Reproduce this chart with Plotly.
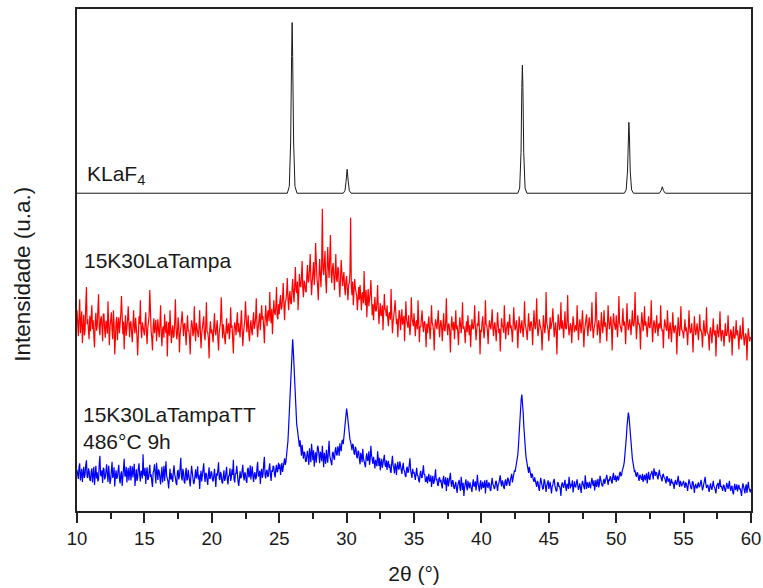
import numpy as np
import plotly.graph_objects as go

# --- scan grid (2θ, degrees) ---
SCAN_START = 10.0
SCAN_STEP = 0.05

# --- 15K30LaTampaTT 486°C 9h (counts, a.u.), one row per degree ---
tt_counts = [
    82, 70, 64, 88, 95, 61, 70, 84, 58, 76, 88, 66, 73, 92, 101, 68, 66, 85, 79, 62,
    60, 78, 85, 57, 71, 88, 52, 74, 90, 65, 77, 59, 63, 93, 110, 72, 69, 81, 56, 86,
    84, 63, 67, 80, 93, 71, 58, 90, 75, 54, 62, 79, 98, 66, 72, 87, 49, 70, 81, 64,
    68, 81, 92, 64, 55, 73, 79, 50, 63, 85, 104, 69, 70, 88, 57, 76, 86, 61, 74, 90,
    61, 74, 89, 67, 76, 94, 50, 71, 83, 60, 66, 85, 95, 72, 59, 80, 78, 65, 113, 75,
    70, 86, 54, 75, 87, 62, 64, 79, 92, 68, 73, 58, 48, 77, 81, 93, 67, 55, 96, 71,
    62, 83, 79, 66, 53, 74, 88, 57, 71, 90, 60, 76, 99, 70, 66, 59, 45, 72, 84, 63,
    75, 64, 58, 80, 91, 72, 67, 55, 52, 78, 82, 63, 70, 87, 106, 68, 61, 84, 77, 58,
    55, 76, 86, 61, 64, 82, 73, 66, 49, 71, 90, 78, 68, 54, 57, 80, 83, 65, 72, 89,
    63, 72, 44, 67, 80, 59, 69, 84, 95, 70, 58, 76, 74, 61, 52, 73, 87, 64, 66, 79,
    76, 62, 59, 71, 84, 66, 48, 75, 70, 82, 97, 65, 62, 78, 73, 57, 55, 69, 81, 60,
    64, 77, 88, 62, 53, 70, 71, 85, 60, 67, 83, 72, 102, 63, 57, 74, 75, 90, 66, 58,
    50, 73, 79, 65, 68, 81, 92, 70, 61, 77, 74, 60, 56, 83, 86, 67, 70, 91, 63, 76,
    89, 70, 58, 74, 77, 63, 66, 85, 98, 69, 71, 80, 54, 76, 84, 66, 73, 94, 108, 71,
    65, 79, 82, 68, 70, 86, 95, 72, 60, 81, 78, 90, 88, 73, 67, 84, 92, 77, 80, 96,
    84, 93, 72, 85, 96, 78, 88, 101, 105, 92, 98, 112, 125, 140, 168, 196, 236, 270, 305, 328,
    342, 318, 286, 250, 228, 196, 172, 163, 150, 136, 128, 141, 118, 110, 132, 121, 104, 118, 115, 99,
    98, 111, 120, 104, 92, 125, 112, 97, 134, 115, 101, 121, 88, 108, 117, 96, 108, 130, 126, 102,
    95, 118, 113, 99, 130, 108, 87, 116, 109, 94, 122, 103, 96, 119, 140, 110, 104, 97, 91, 115,
    118, 106, 102, 121, 127, 112, 111, 129, 123, 110, 135, 124, 119, 138, 142, 133, 150, 158, 172, 190,
    204, 194, 178, 160, 150, 142, 138, 126, 121, 134, 130, 115, 112, 128, 124, 108, 105, 120, 118, 102,
    93, 116, 110, 97, 124, 105, 98, 90, 87, 108, 115, 100, 102, 119, 92, 103, 130, 111, 99, 94,
    108, 93, 85, 102, 97, 89, 119, 98, 90, 106, 81, 96, 104, 86, 95, 110, 112, 92, 88, 101,
    82, 95, 100, 86, 93, 79, 76, 97, 110, 91, 87, 75, 95, 88, 72, 90, 98, 83, 84, 99,
    90, 77, 74, 87, 96, 82, 79, 70, 68, 85, 88, 76, 80, 93, 105, 81, 71, 66, 84, 75,
    78, 68, 62, 75, 86, 71, 70, 61, 57, 74, 80, 67, 66, 79, 91, 72, 73, 58, 60, 69,
    55, 66, 74, 59, 60, 71, 48, 62, 70, 54, 58, 69, 83, 61, 64, 52, 50, 65, 67, 57,
    62, 51, 45, 63, 70, 56, 53, 67, 40, 58, 66, 49, 57, 64, 76, 55, 48, 61, 60, 47,
    44, 53, 58, 45, 36, 51, 55, 62, 47, 40, 68, 52, 42, 56, 30, 46, 57, 63, 49, 41,
    60, 48, 45, 57, 52, 43, 38, 54, 63, 49, 50, 59, 41, 53, 72, 56, 47, 39, 55, 61,
    43, 55, 58, 46, 50, 61, 35, 52, 62, 48, 47, 57, 54, 42, 40, 56, 66, 53, 51, 44,
    46, 58, 60, 50, 40, 53, 55, 64, 71, 56, 49, 61, 57, 47, 44, 59, 63, 51, 52, 66,
    64, 56, 50, 62, 68, 74, 57, 66, 72, 81, 78, 88, 90, 98, 112, 131, 158, 183, 204, 222,
    232, 218, 196, 168, 142, 124, 110, 101, 94, 84, 76, 88, 82, 70, 66, 75, 71, 62, 58, 67,
    62, 53, 48, 60, 57, 46, 40, 55, 66, 58, 52, 44, 45, 63, 60, 49, 38, 51, 55, 61,
    44, 53, 58, 46, 35, 49, 52, 60, 64, 51, 47, 39, 41, 57, 56, 48, 50, 43, 30, 52,
    57, 50, 46, 55, 62, 48, 40, 54, 53, 44, 68, 56, 45, 52, 51, 61, 37, 47, 59, 49,
    48, 56, 63, 51, 42, 49, 55, 45, 36, 52, 60, 54, 50, 43, 71, 58, 44, 57, 53, 46,
    58, 49, 45, 57, 66, 55, 50, 61, 41, 52, 62, 48, 54, 64, 47, 53, 70, 59, 56, 51,
    49, 60, 64, 54, 58, 66, 72, 57, 52, 63, 60, 69, 67, 58, 55, 70, 76, 62, 63, 71,
    58, 66, 70, 61, 64, 75, 78, 69, 72, 80, 84, 90, 98, 110, 124, 146, 168, 184, 196, 188,
    170, 150, 128, 114, 104, 96, 88, 79, 80, 72, 68, 77, 75, 66, 60, 72, 70, 64, 63, 74,
    58, 67, 72, 61, 66, 75, 55, 69, 78, 64, 62, 73, 74, 80, 68, 63, 85, 71, 70, 77,
    76, 68, 63, 74, 82, 71, 70, 64, 59, 72, 73, 67, 66, 60, 55, 69, 68, 58, 61, 65,
    50, 59, 64, 55, 58, 51, 44, 57, 62, 54, 53, 61, 70, 56, 48, 60, 57, 49, 52, 58,
    60, 51, 46, 56, 55, 48, 40, 53, 63, 57, 50, 45, 44, 59, 58, 49, 36, 50, 54, 47,
    45, 53, 57, 48, 49, 56, 62, 51, 41, 47, 53, 60, 68, 54, 46, 50, 52, 43, 38, 49,
    55, 46, 42, 51, 60, 49, 47, 41, 35, 50, 52, 56, 44, 53, 63, 48, 50, 45, 40, 52,
    51, 43, 38, 47, 56, 50, 44, 52, 60, 46, 40, 49, 49, 37, 33, 48, 54, 42, 45, 53,
    39, 47, 52, 43, 45, 38, 30, 46, 55, 49, 42, 35, 48, 53, 36, 44, 58, 46, 41, 37,
    44,
]

# --- 15K30LaTampa, as-cast glass (counts, a.u.), one row per degree ---
glass_counts = [
    150, 118, 98, 136, 172, 104, 120, 148, 84, 127, 141, 100, 110, 160, 196, 122, 132, 108, 92, 139,
    108, 134, 160, 112, 130, 98, 76, 126, 145, 109, 118, 150, 182, 115, 100, 131, 138, 119, 88, 142,
    142, 112, 95, 129, 124, 103, 168, 121, 80, 117, 130, 146, 110, 92, 150, 125, 62, 108, 126, 137,
    90, 121, 136, 104, 118, 143, 178, 110, 102, 127, 72, 115, 140, 99, 112, 130, 158, 117, 96, 124,
    128, 105, 86, 119, 150, 113, 104, 135, 120, 97, 60, 111, 138, 122, 170, 109, 94, 126, 116, 101,
    100, 123, 146, 107, 82, 114, 124, 139, 190, 120, 108, 93, 70, 117, 134, 104, 115, 131, 88, 118,
    132, 110, 96, 121, 160, 103, 78, 112, 118, 95, 142, 116, 104, 128, 58, 107, 126, 99, 150, 113,
    84, 109, 120, 95, 100, 127, 172, 114, 92, 104, 136, 118, 66, 101, 112, 130, 148, 105, 98, 122,
    124, 102, 80, 117, 140, 108, 110, 92, 62, 113, 130, 121, 98, 106, 158, 111, 88, 125, 115, 97,
    96, 114, 150, 109, 74, 103, 118, 130, 138, 100, 90, 119, 166, 107, 106, 93, 54, 112, 128, 104,
    112, 99, 86, 120, 144, 108, 100, 116, 130, 94, 70, 105, 118, 127, 176, 113, 94, 122, 108, 97,
    82, 111, 134, 103, 110, 124, 92, 107, 156, 115, 120, 98, 64, 109, 126, 117, 100, 128, 146, 106,
    124, 108, 96, 127, 150, 114, 78, 104, 118, 132, 168, 112, 106, 121, 140, 101, 88, 118, 130, 109,
    100, 129, 146, 113, 120, 135, 174, 121, 96, 117, 132, 144, 110, 126, 160, 131, 138, 115, 84, 130,
    160, 134, 118, 146, 150, 128, 186, 142, 124, 153, 102, 138, 170, 147, 140, 158, 196, 137, 132, 162,
    142, 168, 180, 151, 156, 175, 204, 160, 130, 166, 170, 184, 214, 172, 150, 178, 188, 165, 162, 190,
    212, 185, 166, 198, 236, 190, 184, 207, 150, 183, 222, 200, 196, 216, 248, 194, 176, 209, 204, 188,
    186, 219, 240, 205, 210, 231, 262, 213, 180, 207, 228, 246, 200, 222, 284, 225, 214, 198, 170, 218,
    252, 221, 196, 240, 352, 232, 220, 245, 268, 210, 184, 229, 276, 238, 214, 256, 300, 226, 204, 234,
    244, 218, 190, 227, 262, 212, 206, 236, 232, 201, 176, 215, 250, 224, 198, 213, 226, 195, 180, 209,
    218, 192, 170, 201, 204, 226, 334, 198, 180, 207, 160, 189, 212, 194, 188, 178, 150, 184, 196, 171,
    200, 176, 150, 182, 186, 164, 228, 178, 160, 190, 136, 170, 192, 158, 168, 183, 210, 167, 140, 162,
    130, 158, 176, 149, 148, 163, 200, 155, 122, 147, 164, 139, 140, 160, 110, 145, 182, 152, 150, 138,
    160, 134, 118, 143, 146, 131, 192, 141, 104, 126, 136, 152, 170, 137, 122, 133, 96, 129, 150, 140,
    110, 132, 152, 121, 130, 139, 88, 124, 168, 131, 120, 115, 140, 127, 100, 122, 176, 135, 126, 118,
    144, 119, 98, 126, 130, 112, 170, 128, 86, 118, 116, 134, 150, 121, 106, 125, 128, 110, 76, 123,
    104, 122, 138, 113, 92, 119, 160, 125, 120, 108, 70, 116, 132, 121, 112, 129, 150, 115, 96, 124,
    130, 114, 88, 120, 144, 111, 108, 126, 174, 118, 100, 123, 122, 107, 66, 112, 138, 119, 110, 127,
    92, 117, 150, 112, 120, 105, 80, 115, 136, 121, 104, 124, 166, 113, 118, 109, 84, 116, 128, 106,
    140, 118, 100, 121, 76, 110, 132, 115, 112, 126, 160, 117, 90, 108, 124, 119, 148, 113, 62, 111,
    106, 125, 138, 111, 94, 116, 170, 122, 120, 107, 82, 114, 130, 118, 112, 128, 152, 115, 98, 120,
    126, 109, 88, 117, 146, 121, 104, 113, 68, 110, 134, 119, 116, 105, 160, 123, 92, 112, 120, 127,
    100, 121, 142, 114, 120, 107, 86, 118, 156, 124, 110, 116, 130, 112, 74, 109, 138, 122, 104, 117,
    130, 111, 96, 120, 168, 124, 118, 106, 90, 115, 144, 119, 108, 125, 128, 113, 80, 117, 150, 121,
    112, 127, 174, 118, 98, 110, 132, 121, 116, 108, 70, 114, 140, 123, 104, 117, 186, 126, 120, 109,
    88, 115, 136, 112, 120, 129, 154, 118, 96, 111, 126, 107, 62, 116, 142, 124, 110, 119, 166, 113,
    130, 117, 94, 121, 148, 114, 112, 127, 180, 120, 100, 110, 124, 118, 84, 113, 138, 125, 106, 116,
    120, 109, 160, 122, 90, 115, 132, 119, 104, 126, 150, 114, 76, 108, 118, 129, 142, 117, 98, 121,
    136, 119, 108, 125, 166, 116, 94, 111, 124, 130, 186, 121, 100, 114, 130, 118, 84, 112, 146, 123,
    104, 123, 150, 117, 126, 113, 88, 121, 160, 128, 112, 124, 138, 115, 70, 119, 144, 126, 118, 111,
    140, 121, 96, 127, 178, 125, 120, 114, 106, 130, 154, 119, 128, 116, 82, 123, 164, 126, 110, 120,
    132, 118, 100, 125, 150, 121, 118, 131, 186, 127, 92, 115, 140, 122, 124, 113, 72, 120, 146, 128,
    108, 124, 158, 119, 128, 112, 96, 121, 138, 117, 114, 126, 170, 118, 86, 115, 130, 122, 104, 116,
    140, 117, 98, 121, 124, 113, 160, 119, 108, 111, 74, 114, 132, 120, 116, 109, 150, 118, 92, 112,
    126, 109, 86, 115, 146, 113, 104, 117, 120, 106, 62, 110, 136, 114, 98, 119, 158, 111, 110, 105,
    94, 113, 132, 108, 116, 103, 80, 112, 150, 115, 104, 109, 124, 101, 66, 107, 138, 114, 100, 111,
    124, 106, 90, 113, 142, 109, 110, 102, 76, 107, 130, 112, 98, 111, 156, 105, 104, 99, 70, 108,
    116, 101, 84, 108, 134, 106, 100, 110, 58, 98, 122, 107, 96, 112, 148, 103, 88, 109, 110, 97,
    78, 104, 124, 99, 100, 108, 140, 103, 86, 97, 112, 106, 60, 101, 118, 95, 94, 105, 130, 100,
    110, 96, 72, 101, 120, 94, 92, 103, 136, 99, 80, 93, 104, 97, 50, 92, 114, 100, 88, 95,
    96,
]

# --- KLaF4 reference pattern: profile points (2θ, relative intensity %) ---
ref_two_theta = [
    10.0,
    25.60, 25.75, 25.85, 25.92, 25.96, 26.00, 26.07, 26.17, 26.32,
    29.75, 29.88, 29.96, 30.04, 30.12, 30.20, 30.33,
    42.70, 42.84, 42.94, 43.00, 43.04, 43.08, 43.14, 43.24, 43.38,
    50.60, 50.74, 50.84, 50.90, 50.94, 50.98, 51.04, 51.14, 51.28,
    53.20, 53.33, 53.42, 53.51, 53.64,
    60.0,
]
ref_rel_int = [
    0,
    0, 4, 30, 80, 100, 80, 30, 4, 0,
    0, 1.5, 7, 14, 7, 1.5, 0,
    0, 3, 24, 62, 75, 62, 24, 3, 0,
    0, 2, 13, 34, 41.5, 34, 13, 2, 0,
    0, 1.5, 3.8, 1.5, 0,
    0,
]

# vertical stacking of the three patterns
OFFSET_TT = 0
OFFSET_GLASS = 250
OFFSET_REF = 633
REF_SCALE = 3.4  # counts per % of the reference pattern

FONT = "Liberation Sans, Arial, sans-serif"
INK = "#1a1a1a"

two_theta_tt = SCAN_START + SCAN_STEP * np.arange(len(tt_counts))
two_theta_glass = SCAN_START + SCAN_STEP * np.arange(len(glass_counts))

fig = go.Figure()
fig.add_trace(go.Scatter(
    x=ref_two_theta,
    y=OFFSET_REF + REF_SCALE * np.array(ref_rel_int),
    mode="lines", line=dict(color=INK, width=1),
    name="KLaF4", showlegend=False,
))
fig.add_trace(go.Scatter(
    x=two_theta_glass, y=OFFSET_GLASS + np.array(glass_counts),
    mode="lines", line=dict(color="#ff0000", width=1.2),
    name="15K30LaTampa", showlegend=False,
))
fig.add_trace(go.Scatter(
    x=two_theta_tt, y=OFFSET_TT + np.array(tt_counts),
    mode="lines", line=dict(color="#0000ff", width=1.2),
    name="15K30LaTampaTT", showlegend=False,
))

annot_font = dict(family=FONT, size=21, color=INK)
fig.add_annotation(x=10.56, y=669, text="KLaF<sub>4</sub>", showarrow=False,
                   xanchor="left", yanchor="middle", font=annot_font)
fig.add_annotation(x=10.39, y=500, text="15K30LaTampa", showarrow=False,
                   xanchor="left", yanchor="middle", font=annot_font)
fig.add_annotation(x=10.31, y=166, text="15K30LaTampaTT<br>486°C 9h", showarrow=False,
                   xanchor="left", yanchor="middle", align="left", font=annot_font)

# y-axis title, placed in the left margin
fig.add_annotation(xref="paper", yref="paper", x=-0.082, y=0.472,
                   text="Intensidade (u.a.)", textangle=-90, showarrow=False,
                   xanchor="center", yanchor="middle",
                   font=dict(family=FONT, size=22.5, color=INK))

axis_common = dict(
    showline=True, linecolor="#222222", linewidth=2, mirror=True,
    showgrid=False, zeroline=False, automargin=False,
)
fig.update_xaxes(
    range=[10, 60], dtick=5, tick0=10,
    ticks="outside", ticklen=10, tickwidth=2, tickcolor="#222222",
    minor=dict(ticks="outside", ticklen=6, tickwidth=2, tickcolor="#222222", dtick=2.5),
    tickfont=dict(family=FONT, size=18.5, color=INK),
    title=dict(text="2θ (°)", font=dict(family=FONT, size=21, color=INK), standoff=18),
    **axis_common,
)
fig.update_yaxes(
    range=[0, 1000], showticklabels=False, ticks="",
    **axis_common,
)
fig.update_layout(
    width=763, height=588,
    margin=dict(l=77, r=12, t=9, b=77),
    paper_bgcolor="white", plot_bgcolor="white",
)

fig.write_html("out.html")
